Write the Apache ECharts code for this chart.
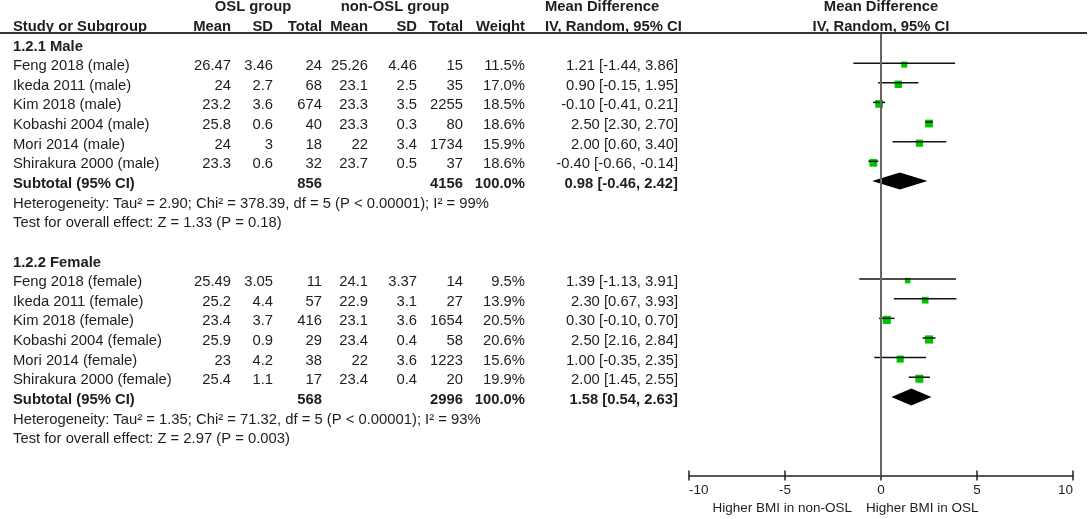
<!DOCTYPE html>
<html>
<head>
<meta charset="utf-8">
<script src="https://cdn.jsdelivr.net/npm/echarts@6/dist/echarts.min.js"></script>
<style>
  html, body { margin: 0; padding: 0; background: #fff; }
  #chart { width: 1088px; height: 519px; }
</style>
</head>
<body>
<div id="chart"></div>
<script>
// 男性亚组
var maleStudies = ['Feng 2018 (male)', 'Ikeda 2011 (male)', 'Kim 2018 (male)', 'Kobashi 2004 (male)', 'Mori 2014 (male)', 'Shirakura 2000 (male)'];
var maleOslMean = [26.47, 24, 23.2, 25.8, 24, 23.3];
var maleOslSD = [3.46, 2.7, 3.6, 0.6, 3, 0.6];
var maleOslN = [24, 68, 674, 40, 18, 32];
var maleCtlMean = [25.26, 23.1, 23.3, 23.3, 22, 23.7];
var maleCtlSD = [4.46, 2.5, 3.5, 0.3, 3.4, 0.5];
var maleCtlN = [15, 35, 2255, 80, 1734, 37];
var maleWeight = [11.5, 17.0, 18.5, 18.6, 15.9, 18.6];
var maleMD = [1.21, 0.90, -0.10, 2.50, 2.00, -0.40];
var maleLo = [-1.44, -0.15, -0.41, 2.30, 0.60, -0.66];
var maleHi = [3.86, 1.95, 0.21, 2.70, 3.40, -0.14];
var maleSubtotal = { oslN: 856, ctlN: 4156, md: 0.98, lo: -0.46, hi: 2.42 };
var maleNotes = [
  'Heterogeneity: Tau² = 2.90; Chi² = 378.39, df = 5 (P < 0.00001); I² = 99%',
  'Test for overall effect: Z = 1.33 (P = 0.18)'
];

// 女性亚组
var femaleStudies = ['Feng 2018 (female)', 'Ikeda 2011 (female)', 'Kim 2018 (female)', 'Kobashi 2004 (female)', 'Mori 2014 (female)', 'Shirakura 2000 (female)'];
var femaleOslMean = [25.49, 25.2, 23.4, 25.9, 23, 25.4];
var femaleOslSD = [3.05, 4.4, 3.7, 0.9, 4.2, 1.1];
var femaleOslN = [11, 57, 416, 29, 38, 17];
var femaleCtlMean = [24.1, 22.9, 23.1, 23.4, 22, 23.4];
var femaleCtlSD = [3.37, 3.1, 3.6, 0.4, 3.6, 0.4];
var femaleCtlN = [14, 27, 1654, 58, 1223, 20];
var femaleWeight = [9.5, 13.9, 20.5, 20.6, 15.6, 19.9];
var femaleMD = [1.39, 2.30, 0.30, 2.50, 1.00, 2.00];
var femaleLo = [-1.13, 0.67, -0.10, 2.16, -0.35, 1.45];
var femaleHi = [3.91, 3.93, 0.70, 2.84, 2.35, 2.55];
var femaleSubtotal = { oslN: 568, ctlN: 2996, md: 1.58, lo: 0.54, hi: 2.63 };
var femaleNotes = [
  'Heterogeneity: Tau² = 1.35; Chi² = 71.32, df = 5 (P < 0.00001); I² = 93%',
  'Test for overall effect: Z = 2.97 (P = 0.003)'
];

var groupTitles = ['1.2.1 Male', '1.2.2 Female'];
var xTicks = [-10, -5, 0, 5, 10];
var footLeft = 'Higher BMI in non-OSL';
var footRight = 'Higher BMI in OSL';

// 布局
var FONT = '"Liberation Sans", Arial, sans-serif';
var FS = 14.8;
var INK = '#1e1e1e';
var GREEN = '#00c400';
var col = { name: 13, oslMean: 231, oslSD: 273, oslN: 322, ctlMean: 368, ctlSD: 417, ctlN: 463, weight: 525, ci: 678 };
var plotGrid = { left: 689, right: 15, top: 33.7, bottom: 43.6 };

var groups = [
  { title: groupTitles[0], start: 0, names: maleStudies, om: maleOslMean, os: maleOslSD, on: maleOslN,
    cm: maleCtlMean, cs: maleCtlSD, cn: maleCtlN, w: maleWeight, md: maleMD, lo: maleLo, hi: maleHi,
    sub: maleSubtotal, notes: maleNotes },
  { title: groupTitles[1], start: 11, names: femaleStudies, om: femaleOslMean, os: femaleOslSD, on: femaleOslN,
    cm: femaleCtlMean, cs: femaleCtlSD, cn: femaleCtlN, w: femaleWeight, md: femaleMD, lo: femaleLo, hi: femaleHi,
    sub: femaleSubtotal, notes: femaleNotes }
];

var studyData = [];
var diamondData = [];
groups.forEach(function (g) {
  g.md.forEach(function (v, i) {
    studyData.push([v, g.lo[i], g.hi[i], g.start + 1 + i, g.w[i]]);
  });
  diamondData.push([g.sub.md, g.sub.lo, g.sub.hi, g.start + 1 + g.names.length]);
});

function ci(md, lo, hi) {
  return md.toFixed(2) + ' [' + lo.toFixed(2) + ', ' + hi.toFixed(2) + ']';
}

var chart = echarts.init(document.getElementById('chart'));

chart.setOption({
  animation: false,
  backgroundColor: '#fff',
  // 第二个 grid 只用来画朝上的刻度
  grid: [plotGrid, plotGrid],
  xAxis: [
    {
      type: 'value', gridIndex: 0, min: -10, max: 10, interval: 5, position: 'bottom',
      axisLine: { show: true, onZero: false, lineStyle: { color: '#222', width: 1.5 } },
      axisTick: { show: true, length: 5, lineStyle: { color: '#222', width: 1.5 } },
      axisLabel: {
        color: INK, fontSize: 13.5, fontFamily: FONT, margin: 8,
        alignMinLabel: 'left', alignMaxLabel: 'right',
        customValues: xTicks
      },
      splitLine: { show: false }
    },
    {
      type: 'value', gridIndex: 1, min: -10, max: 10, interval: 5, position: 'bottom',
      axisLine: { show: false, onZero: false },
      axisTick: { show: true, inside: true, length: 5, lineStyle: { color: '#222', width: 1.5 } },
      axisLabel: { show: false },
      splitLine: { show: false }
    }
  ],
  yAxis: [
    { type: 'value', gridIndex: 0, inverse: true, min: -0.5, max: 22, show: false },
    { type: 'value', gridIndex: 1, inverse: true, min: -0.5, max: 22, show: false }
  ],
  series: [
    {
      type: 'custom',
      data: studyData,
      z: 3,
      renderItem: function (params, api) {
        var row = api.value(3);
        var c = api.coord([api.value(0), row]);
        var l = api.coord([api.value(1), row]);
        var h = api.coord([api.value(2), row]);
        var s = 1.8 * Math.sqrt(api.value(4));
        return {
          type: 'group',
          children: [
            { type: 'rect', shape: { x: c[0] - s / 2, y: c[1] - s / 2 + 1.5, width: s, height: s },
              style: { fill: GREEN } },
            { type: 'line', shape: { x1: l[0], y1: l[1], x2: h[0], y2: h[1] },
              style: { stroke: '#111', lineWidth: 1.5 } }
          ]
        };
      },
      markLine: {
        silent: true, symbol: 'none', label: { show: false },
        lineStyle: { color: '#666', width: 2, type: 'solid' },
        data: [{ xAxis: 0 }]
      }
    },
    {
      type: 'custom',
      data: diamondData,
      z: 3,
      renderItem: function (params, api) {
        var row = api.value(3);
        var c = api.coord([api.value(0), row]);
        var l = api.coord([api.value(1), row]);
        var h = api.coord([api.value(2), row]);
        var hh = 8.5;
        return {
          type: 'polygon',
          shape: { points: [[l[0], c[1]], [c[0], c[1] - hh], [h[0], c[1]], [c[0], c[1] + hh]] },
          style: { fill: '#000' }
        };
      }
    }
  ]
});

// 表格文字
function yOf(row) {
  return chart.convertToPixel({ yAxisIndex: 0 }, row) + 3;
}
var gfx = [];
function cell(x, row, text, align, bold, size) {
  gfx.push({
    type: 'text', x: x, y: typeof row === 'number' ? yOf(row) : row.y,
    style: {
      text: String(text), fill: INK, fontFamily: FONT,
      fontSize: size || FS, fontWeight: bold ? 'bold' : 'normal',
      textAlign: align || 'left', textVerticalAlign: 'middle'
    }
  });
}

// 表头
cell(253, -2, 'OSL group', 'center', true);
cell(395, -2, 'non-OSL group', 'center', true);
cell(545, -2, 'Mean Difference', 'left', true);
cell(881, -2, 'Mean Difference', 'center', true);
cell(col.name, -1, 'Study or Subgroup', 'left', true);
cell(col.oslMean, -1, 'Mean', 'right', true);
cell(col.oslSD, -1, 'SD', 'right', true);
cell(col.oslN, -1, 'Total', 'right', true);
cell(col.ctlMean, -1, 'Mean', 'right', true);
cell(col.ctlSD, -1, 'SD', 'right', true);
cell(col.ctlN, -1, 'Total', 'right', true);
cell(col.weight, -1, 'Weight', 'right', true);
cell(545, -1, 'IV, Random, 95% CI', 'left', true);
cell(881, -1, 'IV, Random, 95% CI', 'center', true);

groups.forEach(function (g) {
  cell(col.name, g.start, g.title, 'left', true);
  g.names.forEach(function (n, i) {
    var r = g.start + 1 + i;
    cell(col.name, r, n, 'left');
    cell(col.oslMean, r, g.om[i], 'right');
    cell(col.oslSD, r, g.os[i], 'right');
    cell(col.oslN, r, g.on[i], 'right');
    cell(col.ctlMean, r, g.cm[i], 'right');
    cell(col.ctlSD, r, g.cs[i], 'right');
    cell(col.ctlN, r, g.cn[i], 'right');
    cell(col.weight, r, g.w[i].toFixed(1) + '%', 'right');
    cell(col.ci, r, ci(g.md[i], g.lo[i], g.hi[i]), 'right');
  });
  var sr = g.start + 1 + g.names.length;
  cell(col.name, sr, 'Subtotal (95% CI)', 'left', true);
  cell(col.oslN, sr, g.sub.oslN, 'right', true);
  cell(col.ctlN, sr, g.sub.ctlN, 'right', true);
  cell(col.weight, sr, '100.0%', 'right', true);
  cell(col.ci, sr, ci(g.sub.md, g.sub.lo, g.sub.hi), 'right', true);
  cell(col.name, sr + 1, g.notes[0], 'left');
  cell(col.name, sr + 2, g.notes[1], 'left');
});

// 脚注
cell(852, { y: 508 }, footLeft, 'right', false, 13.5);
cell(866, { y: 508 }, footRight, 'left', false, 13.5);

// 表头下划线
gfx.push({
  type: 'line', shape: { x1: 0, y1: 33, x2: 1087, y2: 33 },
  style: { stroke: '#333', lineWidth: 2 }
});

chart.setOption({ graphic: gfx });
</script>
</body>
</html>
